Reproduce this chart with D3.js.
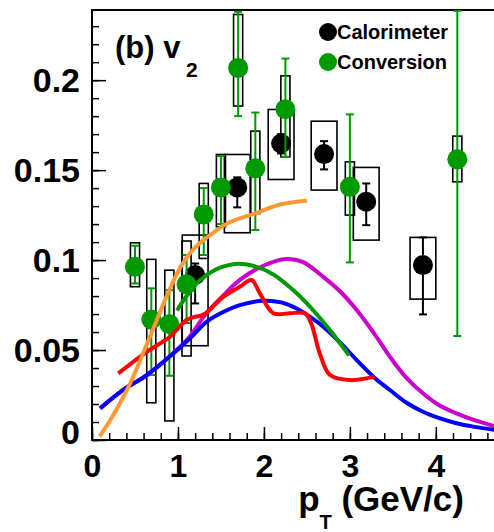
<!DOCTYPE html>
<html>
<head>
<meta charset="utf-8">
<script src="https://cdn.jsdelivr.net/npm/d3@7"></script>
<style>
body { margin: 0; background: #fff; }
svg { display: block; }
text { font-family: "Liberation Sans", Arial, Helvetica, sans-serif; font-weight: bold; fill: #000; }
</style>
</head>
<body>
<script>
// canvas + frame of the plot
const width = 494,
height = 532,
frameL = 92, frameT = 10,
frameR = 496, frameB = 440;

// Calorimeter points (v2, stat error ends, sys box ends)
const caloPt = [1.2, 1.69, 2.2, 2.7, 3.19, 3.85];
const caloV2 = [0.0917, 0.1404, 0.1648, 0.1589, 0.1324, 0.0972];
const caloStatLo = [0.0759, 0.1293, 0.1593, 0.1504, 0.1194, 0.0698];
const caloStatHi = [0.0981, 0.1460, 0.1700, 0.1661, 0.1426, 0.1126];
const caloSysLo = [0.0524, 0.1152, 0.1448, 0.1389, 0.1111, 0.0783];
const caloSysHi = [0.1139, 0.1587, 0.1837, 0.1772, 0.1515, 0.1126];

// Conversion points
const convPt = [0.5, 0.69, 0.9, 1.1, 1.3, 1.5, 1.7, 1.9, 2.25, 3.0, 4.25];
const convV2 = [0.0963, 0.067, 0.0644, 0.0865, 0.1254, 0.1404, 0.2068, 0.151, 0.1839, 0.1407, 0.156];
const convStatLo = [0.087, 0.0361, 0.0357, 0.065, 0.1028, 0.12, 0.18, 0.1167, 0.1574, 0.0987, 0.0578];
const convStatHi = [0.108, 0.0843, 0.0833, 0.1028, 0.14, 0.1578, 0.238, 0.182, 0.212, 0.181, 0.2385];
const convSysLo = [0.0852, 0.0207, 0.0106, 0.0467, 0.1009, 0.1185, 0.1856, 0.1259, 0.1574, 0.125, 0.1435];
const convSysHi = [0.1096, 0.1004, 0.0944, 0.1106, 0.1426, 0.1587, 0.2365, 0.1717, 0.2024, 0.1546, 0.1689];

// model curves, [pT, v2]
const curveOrange = [[0.09, 0.002], [0.25, 0.014], [0.44, 0.031], [0.67, 0.057], [0.87, 0.080],
	[1.04, 0.097], [1.2, 0.107], [1.35, 0.113], [1.6, 0.121], [1.9, 0.126], [2.2, 0.131], [2.5, 0.133]];
const curveGreen = [[0.99, 0.072], [1.1, 0.080], [1.26, 0.089], [1.45, 0.095], [1.7, 0.098],
	[1.9, 0.0965], [2.11, 0.092], [2.3, 0.085], [2.5, 0.076], [2.77, 0.061], [2.99, 0.047]];
const curveMagenta = [[0.1, 0.0176], [0.36, 0.0278], [0.64, 0.0361], [0.95, 0.0485], [1.12, 0.0565],
	[1.33, 0.0704], [1.5, 0.079], [1.72, 0.089], [2.0, 0.097], [2.26, 0.1006], [2.45, 0.099],
	[2.69, 0.0907], [2.9, 0.082], [3.08, 0.0722], [3.3, 0.058], [3.465, 0.0463], [3.65, 0.035],
	[3.85, 0.026], [4.05, 0.019], [4.24, 0.0148], [4.45, 0.011], [4.7, 0.0075]];
const curveBlue = [[0.093, 0.0176], [0.364, 0.0278], [0.636, 0.0361], [0.946, 0.0481], [1.15, 0.057],
	[1.333, 0.0657], [1.52, 0.071], [1.72, 0.075], [1.99, 0.0774], [2.2, 0.0765], [2.38, 0.0731],
	[2.55, 0.068], [2.69, 0.063], [2.9, 0.0535], [3.08, 0.0444], [3.3, 0.034], [3.465, 0.0278],
	[3.65, 0.021], [3.85, 0.0157], [4.05, 0.012], [4.24, 0.0093], [4.45, 0.0073], [4.7, 0.0055]];
const curveRed = [[0.306, 0.037], [0.636, 0.049], [0.907, 0.0574], [1.10, 0.0667], [1.2, 0.0685],
	[1.275, 0.0692], [1.333, 0.0708], [1.527, 0.0796], [1.72, 0.0852], [1.857, 0.0889], [1.953, 0.0815],
	[2.11, 0.0704], [2.30, 0.0704], [2.477, 0.0704], [2.55, 0.0648], [2.65, 0.0481], [2.77, 0.0361],
	[3.0, 0.0333], [3.29, 0.0352]];

const xTicks = [0, 1, 2, 3, 4];
const yTicks = [0, 0.05, 0.1, 0.15, 0.2];
const legendLabels = ["Calorimeter", "Conversion"];

// scales
let x = d3.scaleLinear().domain([0, 4.7]).range([frameL, frameR]);
let y = d3.scaleLinear().domain([0, 0.239]).range([frameB, frameT]);

let svg = d3.select("body")
	.append("svg")
	.attr("width", width)
	.attr("height", height);

svg.append("defs").append("clipPath").attr("id", "plot")
	.append("rect")
	.attr("x", frameL).attr("y", frameT)
	.attr("width", frameR - frameL).attr("height", frameB - frameT);

// minor ticks first, then majors with labels
svg.append("g")
	.attr("transform", `translate(0,${frameB})`)
	.call(d3.axisBottom(x).tickValues(d3.range(0, 4.61, 0.2)).tickSize(-7).tickFormat(""))
	.call(g => g.select(".domain").remove());
svg.append("g")
	.attr("transform", `translate(${frameL},0)`)
	.call(d3.axisLeft(y).tickValues(d3.range(0, 0.2351, 0.01)).tickSize(-7).tickFormat(""))
	.call(g => g.select(".domain").remove());

let xAxis = svg.append("g")
	.attr("transform", `translate(0,${frameB})`)
	.call(d3.axisBottom(x).tickValues(xTicks).tickSize(-13).tickPadding(14).tickFormat(d3.format("d")));
xAxis.select(".domain").remove();
xAxis.selectAll("text").attr("font-size", 32).attr("font-family", null);

let yAxis = svg.append("g")
	.attr("transform", `translate(${frameL},0)`)
	.call(d3.axisLeft(y).tickValues(yTicks).tickSize(-14).tickPadding(12).tickFormat(d => d === 0 ? "0" : String(d)));
yAxis.select(".domain").remove();
yAxis.selectAll("text").attr("font-size", 34).attr("font-family", null)
	.attr("dy", d => d === 0 ? "0.1em" : "0.34em");

svg.selectAll(".tick line").attr("stroke", "#000").attr("stroke-width", 1.5);

// frame
svg.append("rect")
	.attr("x", frameL).attr("y", frameT)
	.attr("width", frameR - frameL).attr("height", frameB - frameT)
	.attr("fill", "none")
	.attr("stroke", "#000")
	.attr("stroke-width", 2);

let plot = svg.append("g").attr("clip-path", "url(#plot)");

// sys boxes
const caloHalf = 0.15, convHalf = 0.053;
const caloIdx = d3.range(caloPt.length), convIdx = d3.range(convPt.length);

plot.selectAll(".calo-box").data(caloIdx).enter().append("rect")
	.attr("x", i => x(caloPt[i] - caloHalf))
	.attr("width", i => x(caloPt[i] + caloHalf) - x(caloPt[i] - caloHalf))
	.attr("y", i => y(caloSysHi[i]))
	.attr("height", i => y(caloSysLo[i]) - y(caloSysHi[i]))
	.attr("fill", "none").attr("stroke", "#000").attr("stroke-width", 1.6);

plot.selectAll(".conv-box").data(convIdx).enter().append("rect")
	.attr("x", i => x(convPt[i] - convHalf))
	.attr("width", i => x(convPt[i] + convHalf) - x(convPt[i] - convHalf))
	.attr("y", i => y(convSysHi[i]))
	.attr("height", i => y(convSysLo[i]) - y(convSysHi[i]))
	.attr("fill", "none").attr("stroke", "#000").attr("stroke-width", 1.6);

// error bars with little caps
function errBars(idx, pt, lo, hi, color) {
	let g = plot.append("g").attr("stroke", color).attr("stroke-width", 2);
	g.selectAll(".v").data(idx).enter().append("line")
		.attr("x1", i => x(pt[i])).attr("x2", i => x(pt[i]))
		.attr("y1", i => y(lo[i])).attr("y2", i => y(hi[i]));
	[lo, hi].forEach(arr => {
		g.selectAll(null).data(idx).enter().append("line")
			.attr("x1", i => x(pt[i]) - 4).attr("x2", i => x(pt[i]) + 4)
			.attr("y1", i => y(arr[i])).attr("y2", i => y(arr[i]));
	});
}

errBars(caloIdx, caloPt, caloStatLo, caloStatHi, "#000");
plot.selectAll(".calo").data(caloIdx).enter().append("circle")
	.attr("cx", i => x(caloPt[i])).attr("cy", i => y(caloV2[i]))
	.attr("r", 10).attr("fill", "#000");

errBars(convIdx, convPt, convStatLo, convStatHi, "#009900");
plot.selectAll(".conv").data(convIdx).enter().append("circle")
	.attr("cx", i => x(convPt[i])).attr("cy", i => y(convV2[i]))
	.attr("r", 10).attr("fill", "#009900");

// theory curves on top
let line = d3.line()
	.x(d => x(d[0]))
	.y(d => y(d[1]))
	.curve(d3.curveCatmullRom);

[[curveMagenta, "#cc00cc"], [curveBlue, "#0000ff"], [curveGreen, "#009900"],
 [curveRed, "#ff0000"], [curveOrange, "#ff9933"]].forEach(c => {
	plot.append("path")
		.datum(c[0])
		.attr("d", line)
		.attr("fill", "none")
		.attr("stroke", c[1])
		.attr("stroke-width", 4);
});

// panel label
svg.append("text").attr("x", 115).attr("y", 58).attr("font-size", 31).text("(b) v");
svg.append("text").attr("x", 186).attr("y", 77).attr("font-size", 21).text("2");

// legend
let legend = svg.append("g");
legend.selectAll("circle").data(legendLabels).enter().append("circle")
	.attr("cx", 328).attr("cy", (d, i) => 32 + i * 30)
	.attr("r", 9)
	.attr("fill", (d, i) => i === 0 ? "#000" : "#009900");
legend.selectAll("text").data(legendLabels).enter().append("text")
	.attr("x", 337).attr("y", (d, i) => 39 + i * 30)
	.attr("font-size", 20)
	.text(d => d);

// x title
let xt = svg.append("text")
	.attr("x", 464).attr("y", 511)
	.attr("text-anchor", "end")
	.attr("font-size", 35);
xt.append("tspan").text("p");
xt.append("tspan").attr("dy", 18).attr("font-size", 20).text("T");
xt.append("tspan").attr("dy", -18).text(" (GeV/c)");
</script>
</body>
</html>
